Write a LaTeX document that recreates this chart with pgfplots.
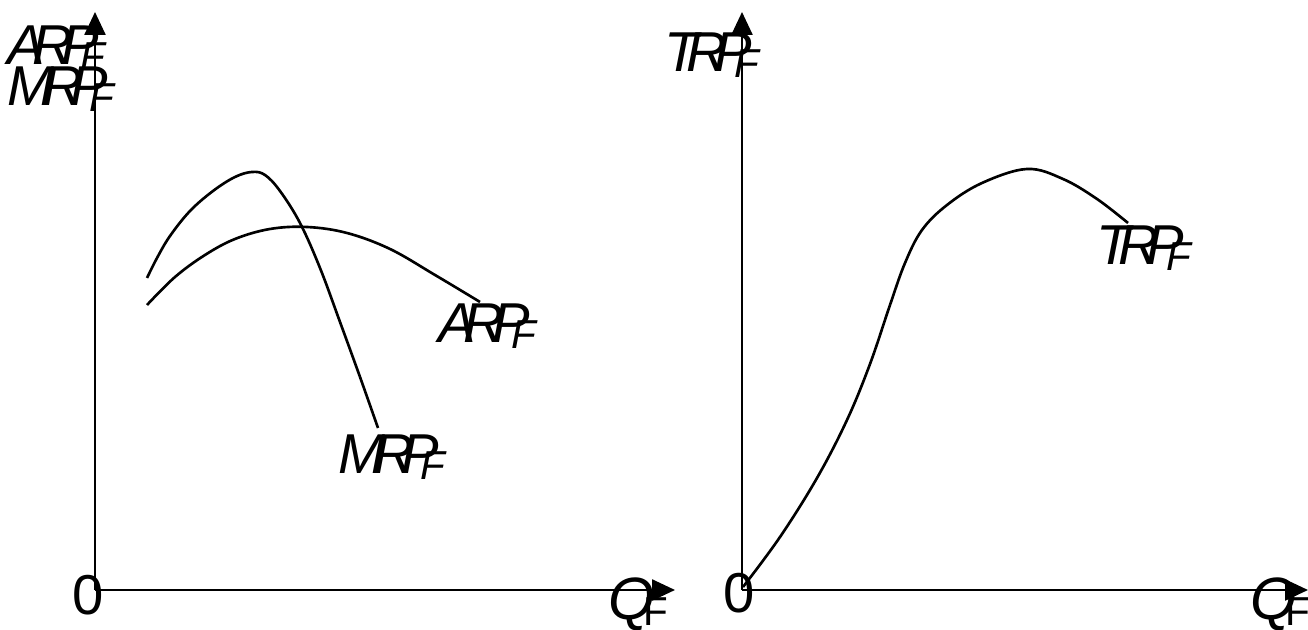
\documentclass[border=0pt]{standalone}
\usepackage{pgfplots}
\pgfplotsset{compat=1.18}
\usetikzlibrary{arrows.meta}
\usepackage{fontspec}
\setmainfont{Liberation Sans}

% tight, overlapping italic labels as in the reference
\newcommand{\sk}{\kern-.22em}
\newcommand{\sub}{\kern-.32em\raisebox{-.6mm}{\fontsize{11.5}{11.5}\selectfont F}}
\newcommand{\lbl}[1]{{\fontsize{16}{16}\selectfont\itshape #1\sub}}

\pgfplotsset{
  econ/.style={
    x=0.1mm, y=0.1mm,
    axis lines=left,
    enlargelimits=false,
    xtick=\empty, ytick=\empty,
    xmin=0, ymin=0, ymax=578,
    axis line style={line width=0.7pt, -{Triangle[length=2.3mm,width=2.1mm]}},
    clip=false,
  },
  curve/.style={black, line width=0.75pt, no marks, smooth, tension=0.6},
}

\begin{document}
\begin{tikzpicture}[every node/.style={inner sep=0pt}]
\useasboundingbox (-9.5mm,-4mm) rectangle (121.3mm,59mm);

% left panel: ARP and MRP
\begin{axis}[econ, xmax=580, at={(0,0)}]
  \addplot[curve] coordinates {
    (52,312) (62,332) (75,354) (95,379) (118,399) (140,413) (157,418)
    (170,415) (185,399) (205,367) (225,322) (245,268) (265,213) (283,162)
  };
  \addplot[curve] coordinates {
    (52,285) (80,313) (110,335) (140,351) (175,361) (212,363) (252,357)
    (295,341) (340,315) (385,288)
  };
  \node[anchor=base west] at (axis cs:343,247) {\lbl{A\sk R\sk P}};
  \node[anchor=base west] at (axis cs:243,116) {\lbl{M\sk R\sk P}};
  \node[anchor=base west] at (axis cs:-88,525) {\lbl{A\sk R\sk P}};
  \node[anchor=base west] at (axis cs:-88,484) {\lbl{M\sk R\sk P}};
  \node[anchor=base] at (axis cs:-7,-25) {\fontsize{16}{16}\selectfont 0};
  \node[anchor=base west] at (axis cs:513,-30) {{\fontsize{17}{17}\selectfont\itshape Q}\sub};
\end{axis}

% right panel: TRP
\begin{axis}[econ, xmax=566, at={(64.7mm,0)}]
  \addplot[curve] coordinates {
    (1,3) (38,53) (75,112) (105,170) (128,226) (148,285) (163,327)
    (180,360) (205,385) (240,407) (285,421) (321,411) (355,391) (386,367)
  };
  \node[anchor=base west] at (axis cs:354,325) {\lbl{T\sk R\sk P}};
  \node[anchor=base west] at (axis cs:-78,518) {\lbl{T\sk R\sk P}};
  \node[anchor=base] at (axis cs:-3,-23) {\fontsize{16}{16}\selectfont 0};
  \node[anchor=base west] at (axis cs:508,-30) {{\fontsize{17}{17}\selectfont\itshape Q}\sub};
\end{axis}
\end{tikzpicture}
\end{document}
